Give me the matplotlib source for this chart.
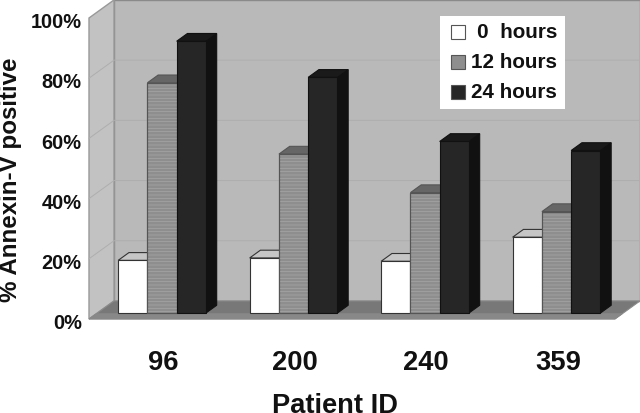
import matplotlib
matplotlib.use("Agg")
import matplotlib.pyplot as plt
from matplotlib.patches import Polygon, Rectangle
from matplotlib.transforms import ScaledTranslation

plt.rcParams["font.family"] = ["Liberation Sans", "DejaVu Sans"]
plt.rcParams["font.weight"] = "bold"
plt.rcParams["hatch.linewidth"] = 0.5

patients = ["96", "200", "240", "359"]
series_names = ["0  hours", "12 hours", "24 hours"]
hours_0 = [17.5, 18.3, 17.2, 25.2]
hours_12 = [76.5, 52.8, 40, 33.7]
hours_24 = [90.3, 78.3, 57, 54]
y_ticks = [0, 20, 40, 60, 80, 100]

# one unit of depth moves a point this far in data units
DEPTH_X = 25 / 131.5
DEPTH_Y = 6.0

BAR_WIDTH = 0.2225
BAR_GAP = 0.159
BAR_DEPTH_FRONT = 0.33
BAR_DEPTH_BACK = 0.76

# front, side, top, edge, hatch
styles = [
    ("#ffffff", "#ffffff", "#c6c6c6", "#333333", None),
    ("#8e8e8e", "#777777", "#666666", "#555555", "#a6a6a6"),
    ("#262626", "#111111", "#1a1a1a", "#111111", None),
]


def project(x, y, depth):
    return (x + depth * DEPTH_X, y + depth * DEPTH_Y)


def face(ax, points, color, edge=None, lw=0.8, z=1, hatch=None):
    ax.add_patch(Polygon(points, closed=True, facecolor=color, edgecolor=edge or color,
                         linewidth=lw, zorder=z, clip_on=False))
    if hatch:
        ax.add_patch(Polygon(points, closed=True, facecolor="none", edgecolor=hatch,
                             hatch="-----", linewidth=0, zorder=z, clip_on=False))
        ax.add_patch(Polygon(points, closed=True, facecolor="none", edgecolor=edge,
                             linewidth=lw, zorder=z, clip_on=False))


def draw_walls(ax):
    face(ax, [project(0, 0, 1), project(4, 0, 1), project(4, 100, 1), project(0, 100, 1)],
         "#b9b9b9", "#8a8a8a", 1.0)
    face(ax, [project(0, 0, 0), project(0, 0, 1), project(0, 100, 1), project(0, 100, 0)],
         "#c2c2c2", "#999999", 1.0)
    for tick in y_ticks[1:-1]:
        ax.plot(*zip(project(0, tick, 0), project(0, tick, 1), project(4, tick, 1)),
                color="#aeaeae", lw=0.7, zorder=1.5, clip_on=False)
    face(ax, [project(0, 0, 0), project(4, 0, 0), project(4, 0, 1), project(0, 0, 1)],
         "#787878", "#8a8a8a", 0.8, z=2)
    # lighter strip along the front of the floor
    face(ax, [project(0, 0, 0), project(4, 0, 0), project(4, 0, 0.3), project(0, 0, 0.3)],
         "#888888", "#888888", 0.5, z=2)


def draw_bar(ax, left, value, style):
    front, side, top, edge, hatch = style
    right = left + BAR_WIDTH
    z = 3
    face(ax, [project(right, 0, BAR_DEPTH_FRONT), project(right, 0, BAR_DEPTH_BACK),
              project(right, value, BAR_DEPTH_BACK), project(right, value, BAR_DEPTH_FRONT)],
         side, edge, z=z)
    face(ax, [project(left, value, BAR_DEPTH_FRONT), project(right, value, BAR_DEPTH_FRONT),
              project(right, value, BAR_DEPTH_BACK), project(left, value, BAR_DEPTH_BACK)],
         top, edge, z=z)
    face(ax, [project(left, 0, BAR_DEPTH_FRONT), project(right, 0, BAR_DEPTH_FRONT),
              project(right, value, BAR_DEPTH_FRONT), project(left, value, BAR_DEPTH_FRONT)],
         front, edge, z=z, hatch=hatch)


def draw_legend(fig):
    # legend box in figure pixels, y counted from the top
    W, H = 640, 413
    fig.add_artist(Rectangle((440 / W, 1 - 109 / H), 125 / W, 93 / H, transform=fig.transFigure,
                             facecolor="white", edgecolor="none", zorder=5))
    rows = [32, 62, 92]
    for name, row, style in zip(series_names, rows, styles):
        fig.add_artist(Rectangle((451 / W, 1 - (row + 7) / H), 14 / W, 14 / H,
                                 transform=fig.transFigure, facecolor=style[0], edgecolor="#555555",
                                 linewidth=0.8, hatch=style[4], zorder=6))
        fig.text(557 / W, 1 - row / H, name, ha="right", va="center", fontsize=14.9,
                 fontweight="bold", color="#111111", zorder=6)


def main():
    fig = plt.figure(figsize=(6.4, 4.13), dpi=100)
    ax = fig.add_axes([89 / 640, 1 - 319 / 413, 526 / 640, 301 / 413])
    ax.set_xlim(0, 4)
    ax.set_ylim(0, 100)
    for spine in ax.spines.values():
        spine.set_visible(False)
    ax.patch.set_visible(False)

    draw_walls(ax)
    series = [hours_0, hours_12, hours_24]
    for i in range(len(patients)):
        for j, values in enumerate(series):
            draw_bar(ax, i + BAR_GAP + j * BAR_WIDTH, values[i], styles[j])

    ax.set_yticks(y_ticks)
    ax.set_yticklabels([f"{t}%" for t in y_ticks], fontsize=14.4, color="#111111")
    ax.set_xticks([i + 0.565 for i in range(len(patients))])
    ax.set_xticklabels(patients, fontsize=19.7, color="#111111")
    ax.tick_params(axis="y", length=0, pad=5.3)
    ax.tick_params(axis="x", length=0, pad=22.5)
    # tick labels sit a little below their gridlines
    nudge = ScaledTranslation(0, -2 / 72, fig.dpi_scale_trans)
    for label in ax.get_yticklabels():
        label.set_transform(label.get_transform() + nudge)

    ax.set_xlabel("Patient ID", fontsize=19.6, fontweight="bold", color="#111111", labelpad=12, x=0.468)
    ax.set_ylabel("% Annexin-V positive", fontsize=17.4, fontweight="bold", color="#111111", va="center")
    ax.yaxis.set_label_coords((11 - 89) / 526, (319 - 180) / 301)

    draw_legend(fig)
    fig.savefig("out.png", dpi=100)


if __name__ == "__main__":
    main()
